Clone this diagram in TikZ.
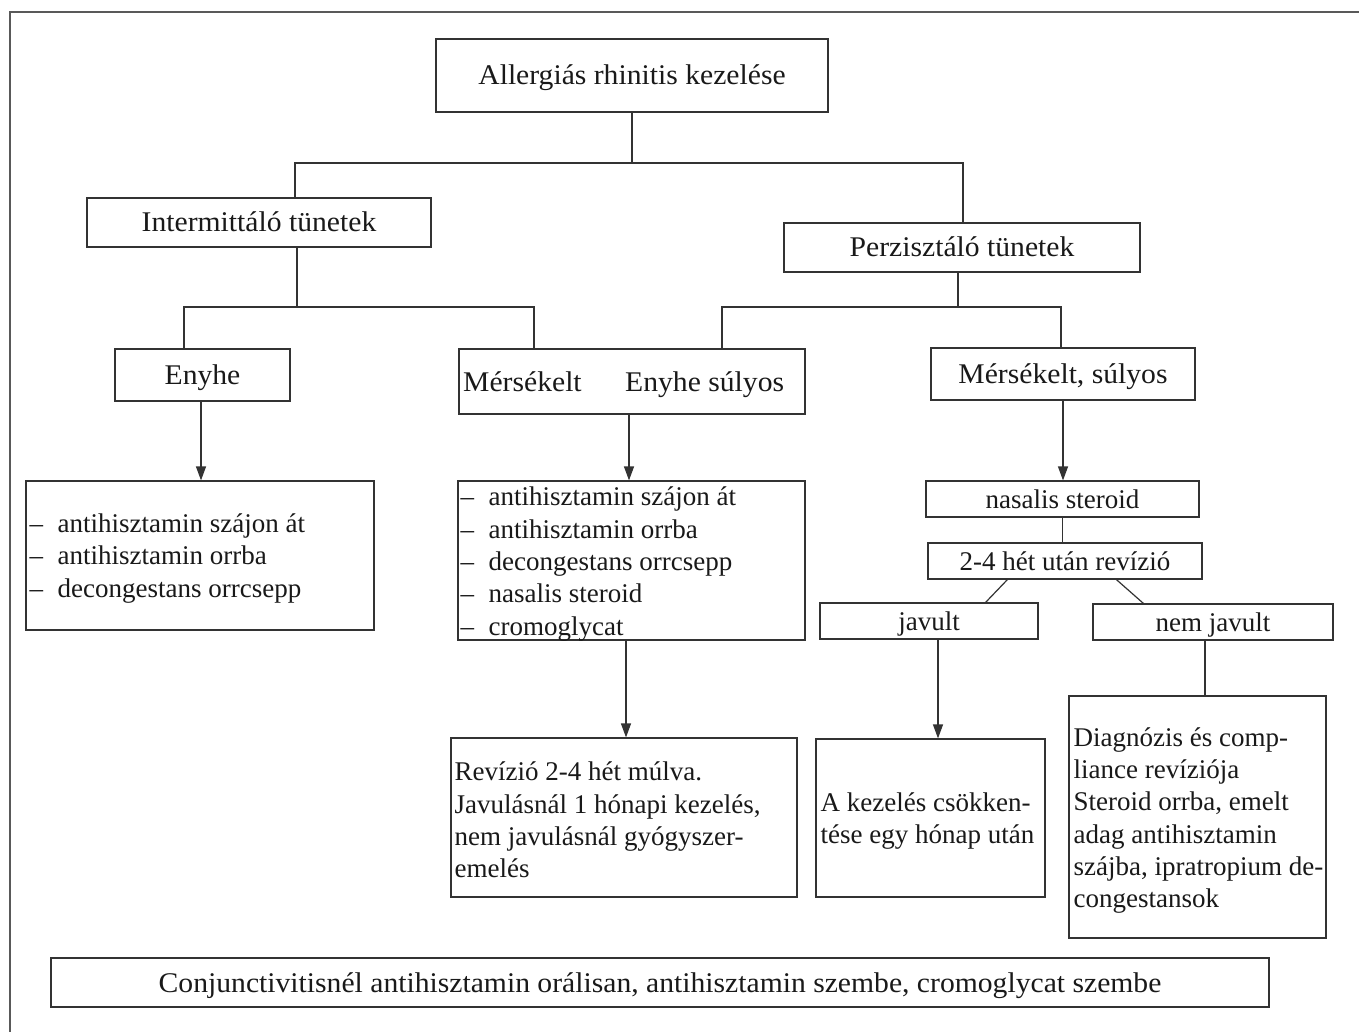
\documentclass[tikz,border=0pt]{standalone}
\usepackage{fontspec}
\setmainfont{Liberation Serif}
\newfontfamily\tms{Liberation Serif}
\newfontfamily\palf[FakeStretch=1.04]{Liberation Serif}
\usetikzlibrary{arrows.meta,calc}
\begin{document}
\begin{tikzpicture}[x=1pt,y=-1pt,
  box/.style={draw=black!80, line width=1.2pt, rectangle, inner sep=0pt, text=black!90},
  one/.style={text height=19pt, text depth=0pt},
  pal/.style={font=\palf\fontsize{28.5}{32}\selectfont, text=black!90, one},
  tim/.style={font=\tms\fontsize{27}{32.3}\selectfont, text=black!90},
  tim1/.style={tim, one},
  txt/.style={tim, align=left, anchor=west, inner sep=0pt},
  conn/.style={draw=black!80, line width=1.2pt},
  arr/.style={conn, -{Triangle[length=14pt,width=10pt]}},
  frame/.style={draw=black!65, line width=1.5pt},
]
\useasboundingbox (0,0) rectangle (1359,1032);
\fill[white] (0,0) rectangle (1359,1032);
\draw[frame] (10,1032) -- (10,12) -- (1359,12);

% level boxes
\node[box,pal,minimum width=392pt,minimum height=73pt] (title) at (632,75.5) {Allergiás rhinitis kezelése};
\node[box,pal,minimum width=344pt,minimum height=49pt] (inter) at (259,222.5) {Intermittáló tünetek};
\node[box,pal,minimum width=356pt,minimum height=49pt] (perz) at (962,247.5) {Perzisztáló tünetek};
\node[box,pal,minimum width=175pt,minimum height=52pt] (enyhe) at (202.5,375) {Enyhe};
\node[box,minimum width=346pt,minimum height=65pt] (mers) at (632,381.5) {};
\node[pal,anchor=west,inner sep=0pt] (mersA) at (463,381.5) {Mérsékelt};
\node[pal,anchor=west,inner sep=0pt] (mersB) at (625,381.5) {Enyhe súlyos};
\node[box,pal,minimum width=264pt,minimum height=52pt] (msul) at (1063,374) {Mérsékelt, súlyos};

% list boxes
\node[box,minimum width=348pt,minimum height=149pt] (elist) at (200,555.5) {};
\node[txt] (elistT) at ($(elist.west)+(4,3)$) {\makebox[28pt][l]{–}antihisztamin szájon át\\
\makebox[28pt][l]{–}antihisztamin orrba\\
\makebox[28pt][l]{–}decongestans orrcsepp};

\node[box,minimum width=347pt,minimum height=159pt] (mlist) at (631.5,560.5) {};
\node[txt] (mlistT) at ($(mlist.west)+(3,3.5)$) {\makebox[28pt][l]{–}antihisztamin szájon át\\
\makebox[28pt][l]{–}antihisztamin orrba\\
\makebox[28pt][l]{–}decongestans orrcsepp\\
\makebox[28pt][l]{–}nasalis steroid\\
\makebox[28pt][l]{–}cromoglycat};

\node[box,tim1,minimum width=273pt,minimum height=36pt] (nasal) at (1062.5,499) {nasalis steroid};
\node[box,tim1,minimum width=274pt,minimum height=36pt] (rev24) at (1065,561) {2-4 hét után revízió};
\node[box,tim1,minimum width=218pt,minimum height=36pt] (javult) at (929,621) {javult};
\node[box,tim1,minimum width=240pt,minimum height=36pt] (nemj) at (1213,622) {nem javult};

% bottom-level boxes
\node[box,minimum width=346pt,minimum height=159pt] (revbox) at (624,817.5) {};
\node[txt] (revT) at ($(revbox.west)+(4,2.5)$) {Revízió 2-4 hét múlva.\\
Javulásnál 1 hónapi kezelés,\\
nem javulásnál gyógyszer-\\
emelés};

\node[box,minimum width=229pt,minimum height=158pt] (akez) at (930.5,818) {};
\node[txt] (akezT) at ($(akez.west)+(5,3)$) {A kezelés csökken-\\
tése egy hónap után};

\node[box,minimum width=257pt,minimum height=242pt] (diag) at (1197.5,817) {};
\node[txt] (diagT) at ($(diag.west)+(5,3.5)$) {Diagnózis és comp-\\
liance revíziója\\
Steroid orrba, emelt\\
adag antihisztamin\\
szájba, ipratropium de-\\
congestansok};

\node[box,pal,minimum width=1218pt,minimum height=49pt] (conj) at (660,982.5) {Conjunctivitisnél antihisztamin orálisan, antihisztamin szembe, cromoglycat szembe};

% connectors: top tree
\coordinate (bL) at (295,163);
\coordinate (bR) at (963,163);
\draw[conn] (title.south) -- (title.south |- bL);
\draw[conn] (bL |- inter.north) -- (bL) -- (bR) -- (bR |- perz.north);

\coordinate (iS) at (297,307);
\coordinate (iL) at (184,307);
\coordinate (iR) at (534,307);
\draw[conn] (iS |- inter.south) -- (iS);
\draw[conn] (iL |- enyhe.north) -- (iL) -- (iR) -- (iR |- mers.north);

\coordinate (pS) at (958,307);
\coordinate (pL) at (722,307);
\coordinate (pR) at (1061,307);
\draw[conn] (pS |- perz.south) -- (pS);
\draw[conn] (pL |- mers.north) -- (pL) -- (pR) -- (pR |- msul.north);

% arrows
\coordinate (a1) at (201,0);
\coordinate (a2) at (629,0);
\coordinate (a3) at (1063,0);
\coordinate (a4) at (626,0);
\coordinate (a5) at (938,0);
\coordinate (a6) at (1205,0);
\draw[arr] (a1 |- enyhe.south) -- (a1 |- elist.north);
\draw[arr] (a2 |- mers.south) -- (a2 |- mlist.north);
\draw[arr] (a3 |- msul.south) -- (a3 |- nasal.north);
\draw[conn] (nasal.south) -- (nasal.south |- rev24.north);
\draw[conn] ($(rev24.south west)+(80,0)$) -- ($(javult.north east)+(-53,0)$);
\draw[conn] ($(rev24.south west)+(189,0)$) -- ($(nemj.north west)+(51,0)$);
\draw[arr] (a5 |- javult.south) -- (a5 |- akez.north);
\draw[conn] (a6 |- nemj.south) -- (a6 |- diag.north);
\draw[arr] (a4 |- mlist.south) -- (a4 |- revbox.north);
\end{tikzpicture}
\end{document}
